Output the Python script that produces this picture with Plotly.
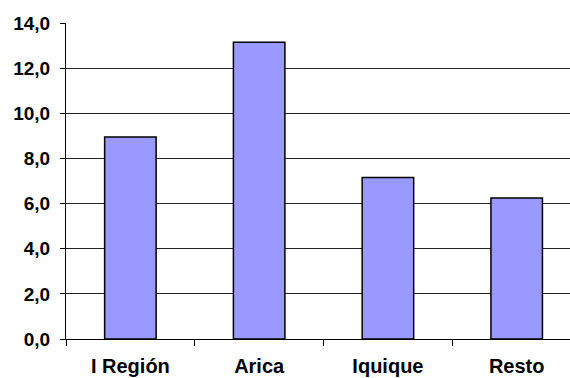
import plotly.graph_objects as go

categories = ["I Región", "Arica", "Iquique", "Resto"]
values = [8.95, 13.15, 7.15, 6.25]
y_ticks = [0, 2, 4, 6, 8, 10, 12, 14]
y_tick_labels = ["0,0", "2,0", "4,0", "6,0", "8,0", "10,0", "12,0", "14,0"]

fig = go.Figure(go.Bar(
    x=categories, y=values, width=0.4,
    marker=dict(color="#9999FF", line=dict(color="black", width=1.5)),
))

fig.update_layout(
    width=570, height=378,
    margin=dict(l=66, r=0, t=23, b=39),
    paper_bgcolor="white", plot_bgcolor="white",
    showlegend=False,
    font=dict(family="Liberation Sans, Arial, sans-serif", color="black"),
)
fig.update_xaxes(
    range=[-0.5, 3.414], showline=True, linecolor="black", linewidth=1,
    ticks="outside", tickson="boundaries", ticklen=6, tickcolor="black",
    tickfont=dict(size=20, family="Liberation Sans, Arial, sans-serif", weight="bold"),
    ticklabelstandoff=9, showgrid=False, automargin=False,
)
fig.update_yaxes(
    range=[0, 14], tickvals=y_ticks, ticktext=y_tick_labels,
    showline=True, linecolor="black", linewidth=1,
    ticks="outside", ticklen=5, tickcolor="black",
    showgrid=True, gridcolor="#222222", gridwidth=1,
    tickfont=dict(size=19, family="Liberation Sans, Arial, sans-serif", weight="bold"),
    ticklabelstandoff=6, zeroline=False, automargin=False,
)

fig.write_html("out.html")
